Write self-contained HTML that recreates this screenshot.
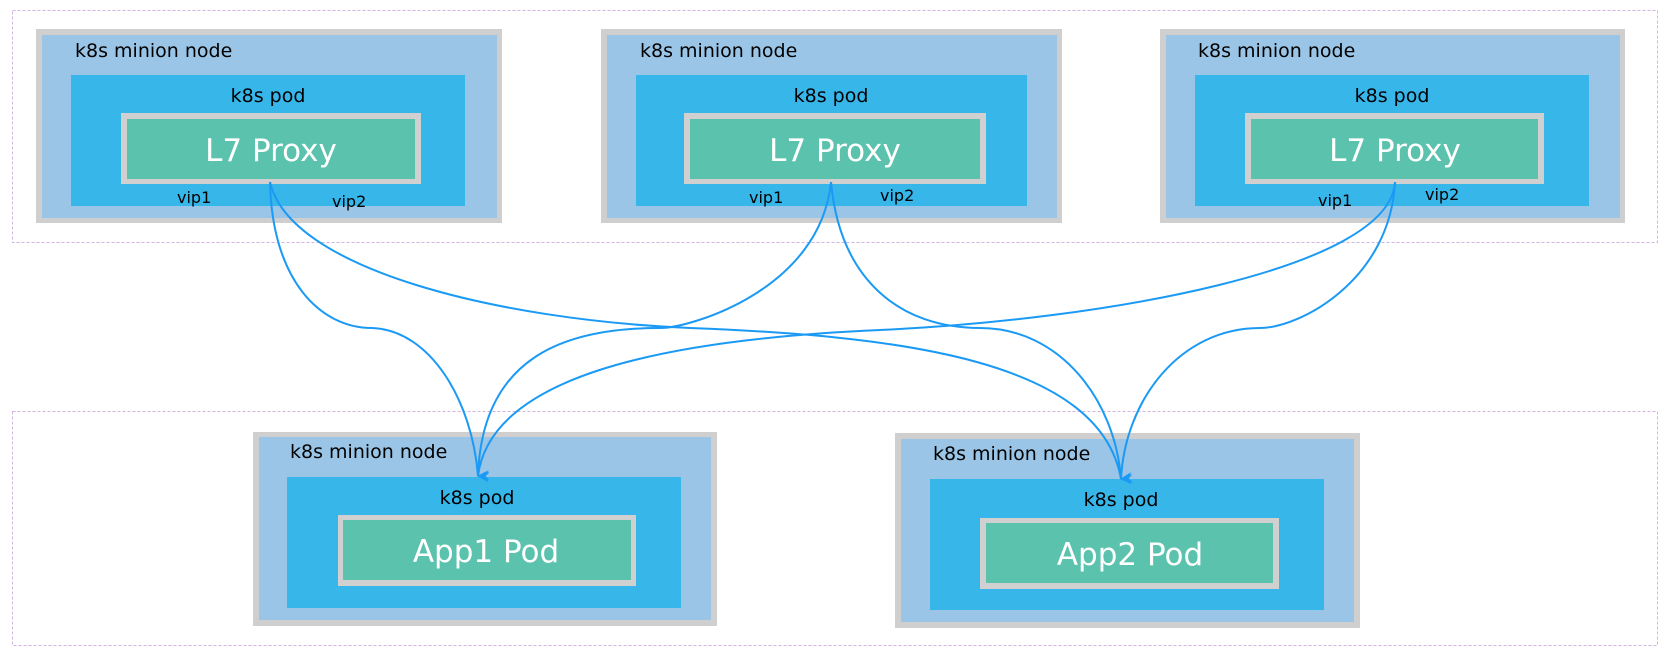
<!DOCTYPE html>
<html><head><meta charset="utf-8"><style>
html,body{margin:0;padding:0;background:#fff;}
svg{display:block;font-family:"DejaVu Sans","Liberation Sans",sans-serif;}
</style></head><body>
<svg width="1675" height="655" viewBox="0 0 1675 655" xmlns="http://www.w3.org/2000/svg">
<defs>
<marker id="a" markerWidth="10" markerHeight="12" refX="5" refY="11" orient="auto" markerUnits="userSpaceOnUse" viewBox="0 0 10 12">
<path d="M0,0 L5,12 L10,0 L5,4 Z" fill="#1a9af5"/>
</marker>
</defs>
<rect x="12.5" y="10.5" width="1645" height="232" fill="none" stroke="#d3b3e2" stroke-dasharray="3,2"/>
<rect x="12.5" y="411.5" width="1645" height="234" fill="none" stroke="#d3b3e2" stroke-dasharray="3,2"/>

<g>
<rect x="36" y="29" width="466" height="194" fill="#cfcfcf"/><rect x="42" y="35" width="455" height="183" fill="#9ac5e6"/>
<rect x="71" y="75" width="394" height="131" fill="#37b6ea"/>
<rect x="121" y="113" width="300" height="71" fill="#d0d0d0"/><rect x="127" y="119" width="288" height="60" fill="#5bc2ad"/>
<text x="75" y="57" font-size="19">k8s minion node</text>
<text x="268" y="102" font-size="19" text-anchor="middle">k8s pod</text>
<text x="271" y="161" font-size="31" fill="#fff" text-anchor="middle">L7 Proxy</text>
<text x="177" y="203" font-size="16">vip1</text><text x="332" y="207" font-size="16">vip2</text>
</g>
<g>
<rect x="601" y="29" width="461" height="194" fill="#cfcfcf"/><rect x="607" y="35" width="450" height="183" fill="#9ac5e6"/>
<rect x="636" y="75" width="391" height="131" fill="#37b6ea"/>
<rect x="684" y="113" width="302" height="71" fill="#d0d0d0"/><rect x="690" y="119" width="290" height="60" fill="#5bc2ad"/>
<text x="640" y="57" font-size="19">k8s minion node</text>
<text x="831" y="102" font-size="19" text-anchor="middle">k8s pod</text>
<text x="835" y="161" font-size="31" fill="#fff" text-anchor="middle">L7 Proxy</text>
<text x="749" y="203" font-size="16">vip1</text><text x="880" y="201" font-size="16">vip2</text>
</g>
<g>
<rect x="1160" y="29" width="465" height="194" fill="#cfcfcf"/><rect x="1166" y="35" width="454" height="183" fill="#9ac5e6"/>
<rect x="1195" y="75" width="394" height="131" fill="#37b6ea"/>
<rect x="1245" y="113" width="299" height="71" fill="#d0d0d0"/><rect x="1251" y="119" width="287" height="60" fill="#5bc2ad"/>
<text x="1198" y="57" font-size="19">k8s minion node</text>
<text x="1392" y="102" font-size="19" text-anchor="middle">k8s pod</text>
<text x="1395" y="161" font-size="31" fill="#fff" text-anchor="middle">L7 Proxy</text>
<text x="1318" y="206" font-size="16">vip1</text><text x="1425" y="200" font-size="16">vip2</text>
</g>

<g>
<rect x="253" y="432" width="464" height="194" fill="#cfcfcf"/><rect x="259" y="437" width="452" height="183" fill="#9ac5e6"/>
<rect x="287" y="477" width="394" height="131" fill="#37b6ea"/>
<rect x="338" y="515" width="298" height="71" fill="#d0d0d0"/><rect x="343" y="520" width="288" height="60" fill="#5bc2ad"/>
<text x="290" y="458" font-size="19">k8s minion node</text>
<text x="477" y="504" font-size="19" text-anchor="middle">k8s pod</text>
<text x="486" y="562" font-size="31" fill="#fff" text-anchor="middle">App1 Pod</text>
</g>
<g>
<rect x="895" y="433" width="465" height="195" fill="#cfcfcf"/><rect x="901" y="439" width="453" height="183" fill="#9ac5e6"/>
<rect x="930" y="479" width="394" height="131" fill="#37b6ea"/>
<rect x="980" y="518" width="299" height="71" fill="#d0d0d0"/><rect x="986" y="523" width="287" height="60" fill="#5bc2ad"/>
<text x="933" y="460" font-size="19">k8s minion node</text>
<text x="1121" y="506" font-size="19" text-anchor="middle">k8s pod</text>
<text x="1130" y="565" font-size="31" fill="#fff" text-anchor="middle">App2 Pod</text>
</g>

<g fill="none" stroke="#1a9af5" stroke-width="2" marker-end="url(#a)">
<path d="M270,182 C272,280 320,328 372,328 C430,330 472,400 478,476"/>
<path d="M270,182 C290,270 500,320 690,328 C900,336 1100,360 1121,479"/>
<path d="M831,182 C820,290 690,328 660,328 C560,328 482,360 478,476"/>
<path d="M831,182 C840,280 900,328 980,328 C1060,328 1115,400 1121,479"/>
<path d="M1395,182 C1390,270 1100,320 880,330 C650,340 490,380 478,476"/>
<path d="M1395,182 C1390,280 1300,328 1260,328 C1180,328 1125,400 1121,479"/>
</g>
</svg>
</body></html>
